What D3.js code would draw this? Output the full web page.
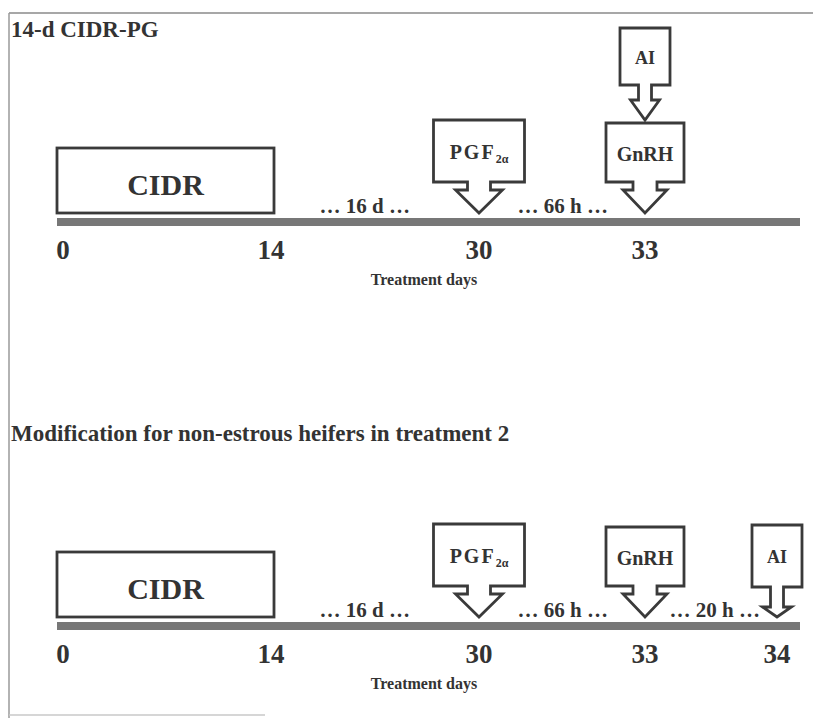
<!DOCTYPE html>
<html>
<head>
<meta charset="utf-8">
<script src="https://cdn.jsdelivr.net/npm/d3@7"></script>
<style>
  html, body { margin: 0; padding: 0; background: #fff; }
  svg { display: block; }
  text { font-family: "Liberation Serif", "DejaVu Serif", serif; font-weight: bold; fill: #333; }
</style>
</head>
<body>
<svg id="chart" width="815" height="718"></svg>
<script>
// ---------------- DATA ----------------
const dayDomain = [0, 14, 30, 33, 34];
const panelTitles = ["14-d CIDR-PG", "Modification for non-estrous heifers in treatment 2"];
const panelTicks = [[0, 14, 30, 33], [0, 14, 30, 33, 34]];
const cidrPeriod = { from: 0, to: 14, label: "CIDR" };
const panel1Events = [
  { name: "PGF", day: 30 },
  { name: "GnRH", day: 33 },
  { name: "AI", day: 33, stackedOn: "GnRH" }
];
const panel2Events = [
  { name: "PGF", day: 30 },
  { name: "GnRH", day: 33 },
  { name: "AI", day: 34 }
];
const panel1Gaps = [
  { from: 14, to: 30, label: "… 16 d …" },
  { from: 30, to: 33, label: "… 66 h …" }
];
const panel2Gaps = [
  { from: 14, to: 30, label: "… 16 d …" },
  { from: 30, to: 33, label: "… 66 h …" },
  { from: 33, to: 34, label: "… 20 h …" }
];
const axisTitle = "Treatment days";

// ---------------- LAYOUT ----------------
const svg = d3.select("#chart");
const x = d3.scaleLinear().domain(dayDomain).range([63, 271, 479, 645, 777]);
const barLeft = 57, barRight = 800;
const panelAxisY = [222, 626];
const ink = "#3a3a3a";

// callout shape styles (per event type)
const shapeStyle = {
  PGF:  { boxW: 91, top: -102, bottom: -40, stemHalf: 11.5, wingHalf: 23.5, wingY: -32, font: 20 },
  GnRH: { boxW: 78, top: -99,  bottom: -40, stemHalf: 12,   wingHalf: 22,   wingY: -32, font: 20 },
  AI:   { boxW: 50, top: -101, bottom: -39, stemHalf: 6.5,  wingHalf: 14.5, wingY: -19, font: 18 }
};
const stackedAI = { top: -95, bottom: -38, wingY: -23, tip: -3 }; // relative to host box top
const tipOffset = -9;

// frame lines
svg.append("line").attr("x1", 9).attr("x2", 813).attr("y1", 13).attr("y2", 13)
  .attr("stroke", "#8a8a8a").attr("stroke-width", 1.5);
svg.append("line").attr("x1", 9).attr("x2", 9).attr("y1", 13).attr("y2", 718)
  .attr("stroke", "#9a9a9a").attr("stroke-width", 1.5);
svg.append("line").attr("x1", 9).attr("x2", 265).attr("y1", 715).attr("y2", 715)
  .attr("stroke", "#c8c8c8").attr("stroke-width", 1.5);

function calloutPath(cx, yBoxTop, yBoxBot, stemHalf, wingHalf, wingY, tipY, boxW) {
  const bx0 = cx - boxW / 2, bx1 = cx + boxW / 2;
  const p = d3.path();
  p.moveTo(bx0, yBoxTop);
  p.lineTo(bx1, yBoxTop);
  p.lineTo(bx1, yBoxBot);
  p.lineTo(cx + stemHalf, yBoxBot);
  p.lineTo(cx + stemHalf, wingY);
  p.lineTo(cx + wingHalf, wingY);
  p.lineTo(cx, tipY);
  p.lineTo(cx - wingHalf, wingY);
  p.lineTo(cx - stemHalf, wingY);
  p.lineTo(cx - stemHalf, yBoxBot);
  p.lineTo(bx0, yBoxBot);
  p.closePath();
  return p.toString();
}

function drawLabel(g, name, cx, cy, fontSize) {
  const t = g.append("text").attr("x", cx).attr("y", cy + fontSize * 0.4)
    .attr("text-anchor", "middle").attr("font-size", fontSize);
  if (name === "PGF") {
    t.append("tspan").text("PGF").attr("letter-spacing", 2);
    t.append("tspan").text("2α").attr("font-size", 12).attr("dy", 4);
  } else {
    t.text(name);
  }
}

function drawPanel(idx, events, gaps) {
  const ay = panelAxisY[idx];
  const g = svg.append("g");

  // title
  g.append("text").attr("x", 11).attr("y", ay - 185).attr("font-size", 23)
    .attr("fill", "#333").text(panelTitles[idx]);

  // CIDR box
  const cx0 = x(cidrPeriod.from) - 6, cx1 = x(cidrPeriod.to) + 3;
  g.append("rect").attr("x", cx0).attr("y", ay - 74).attr("width", cx1 - cx0).attr("height", 65)
    .attr("fill", "#fff").attr("stroke", ink).attr("stroke-width", 2.8);
  g.append("text").attr("x", (cx0 + cx1) / 2).attr("y", ay - 27).attr("text-anchor", "middle")
    .attr("font-size", 30).attr("fill", "#3d3d3d").text(cidrPeriod.label);

  // timeline bar
  g.append("rect").attr("x", barLeft).attr("y", ay - 4).attr("width", barRight - barLeft).attr("height", 8)
    .attr("fill", "#777");

  // ticks
  g.selectAll(".tick").data(panelTicks[idx]).join("text")
    .attr("x", d => x(d)).attr("y", ay + 37).attr("text-anchor", "middle")
    .attr("font-size", 27).attr("fill", "#3a3a3a").text(d => d);

  // axis title
  g.append("text").attr("x", 424).attr("y", ay + 63).attr("text-anchor", "middle")
    .attr("font-size", 16).text(axisTitle);

  // events
  const hostTop = {};
  events.filter(e => !e.stackedOn).forEach(e => {
    const s = shapeStyle[e.name];
    const cx = x(e.day);
    g.append("path")
      .attr("d", calloutPath(cx, ay + s.top, ay + s.bottom, s.stemHalf, s.wingHalf, ay + s.wingY, ay + tipOffset, s.boxW))
      .attr("fill", "#fff").attr("stroke", ink).attr("stroke-width", 2.8).attr("stroke-linejoin", "miter");
    drawLabel(g, e.name, cx, ay + (s.top + s.bottom) / 2, s.font);
    hostTop[e.name] = ay + s.top;
  });
  events.filter(e => e.stackedOn).forEach(e => {
    const s = shapeStyle[e.name];
    const cx = x(e.day);
    const ht = hostTop[e.stackedOn];
    g.append("path")
      .attr("d", calloutPath(cx, ht + stackedAI.top, ht + stackedAI.bottom, s.stemHalf, s.wingHalf, ht + stackedAI.wingY, ht + stackedAI.tip, s.boxW))
      .attr("fill", "#fff").attr("stroke", ink).attr("stroke-width", 2.8);
    drawLabel(g, e.name, cx, ht + (stackedAI.top + stackedAI.bottom) / 2, s.font);
  });

  // gap labels: centered between obstacles
  const barEvents = events.filter(e => !e.stackedOn);
  function rightEdge(day) {
    if (day === cidrPeriod.to) return cx1;
    const e = barEvents.find(ev => ev.day === day);
    return x(day) + shapeStyle[e.name].wingHalf;
  }
  function leftEdge(day) {
    const e = barEvents.find(ev => ev.day === day);
    return x(day) - shapeStyle[e.name].wingHalf;
  }
  g.selectAll(".gap").data(gaps).join("text")
    .attr("x", d => (rightEdge(d.from) + leftEdge(d.to)) / 2)
    .attr("y", ay - 9).attr("text-anchor", "middle").attr("font-size", 21)
    .text(d => d.label);
}

drawPanel(0, panel1Events, panel1Gaps);
drawPanel(1, panel2Events, panel2Gaps);
</script>
</body>
</html>
